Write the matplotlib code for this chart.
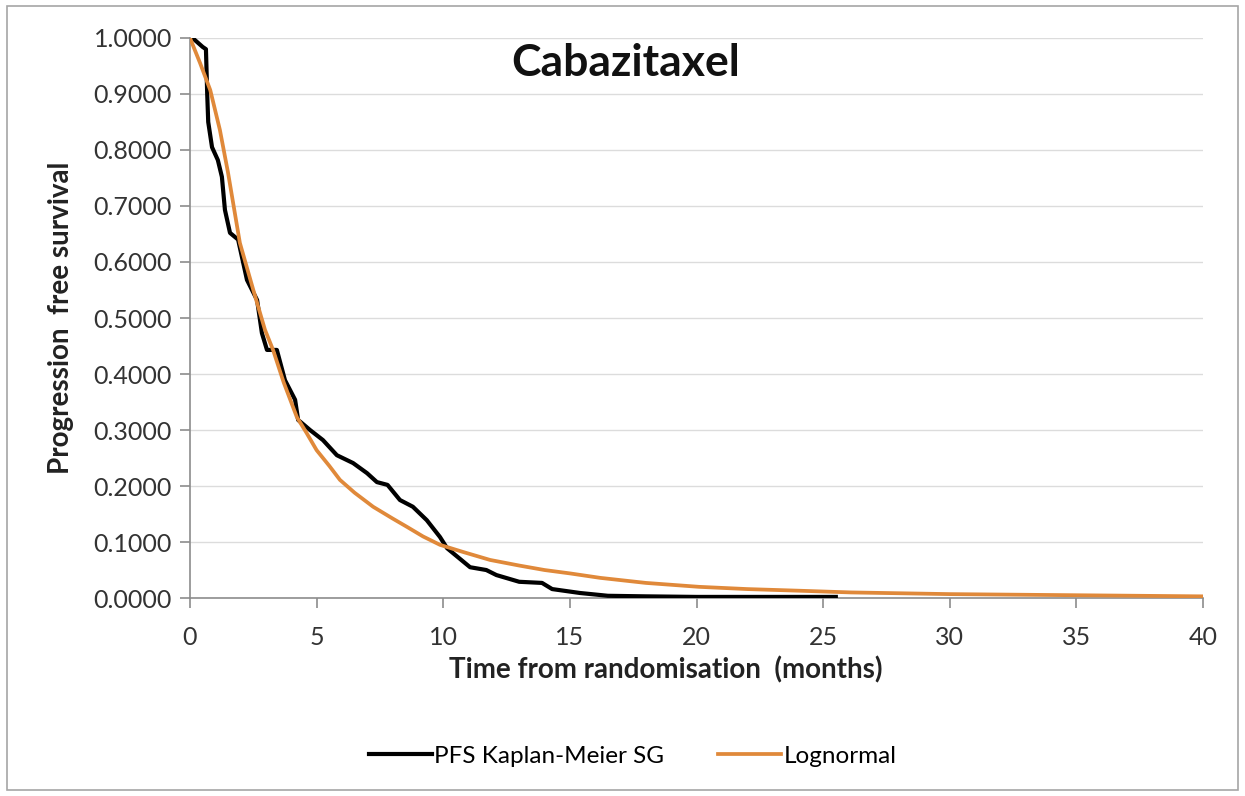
import matplotlib.pyplot as plt
from matplotlib.patches import Rectangle

plt.rcParams['font.family'] = ['Lato', 'DejaVu Sans']

# Kaplan-Meier curve (months, survival)
km_t = [0.0, 0.1, 0.5, 0.63, 0.68, 0.72, 0.87, 1.1, 1.26, 1.38, 1.58, 1.9, 2.25,
        2.65, 2.84, 3.04, 3.43, 3.75, 4.15, 4.27, 4.74, 5.25, 5.8, 6.44, 6.99,
        7.38, 7.8, 8.29, 8.8, 9.35, 9.87, 10.15, 11.06, 11.7, 12.1, 13.0, 13.9,
        14.3, 15.4, 16.5, 18.0, 20.0, 22.0, 25.5]
km_s = [1.0, 1.0, 0.984, 0.98, 0.90, 0.85, 0.805, 0.782, 0.752, 0.693, 0.652,
        0.64, 0.568, 0.532, 0.473, 0.443, 0.443, 0.389, 0.354, 0.318, 0.30,
        0.282, 0.255, 0.241, 0.223, 0.207, 0.202, 0.175, 0.163, 0.139, 0.109,
        0.089, 0.055, 0.05, 0.041, 0.029, 0.027, 0.016, 0.009, 0.004, 0.003,
        0.002, 0.002, 0.002]

# Lognormal fit
ln_t = [0.0, 0.4, 0.8, 1.18, 1.5, 1.97, 2.5, 2.96, 3.28, 3.7, 4.22, 4.6, 5.0,
        5.5, 5.92, 6.5, 7.23, 8.0, 8.57, 9.2, 9.87, 10.8, 11.85, 13.0, 14.0,
        15.0, 16.2, 18.0, 20.1, 22.0, 24.1, 26.1, 30.0, 35.0, 40.0]
ln_s = [1.0, 0.955, 0.907, 0.836, 0.76, 0.634, 0.55, 0.479, 0.443, 0.385,
        0.323, 0.295, 0.264, 0.236, 0.211, 0.188, 0.163, 0.142, 0.127, 0.11,
        0.095, 0.082, 0.068, 0.058, 0.05, 0.044, 0.036, 0.027, 0.020, 0.016,
        0.013, 0.010, 0.007, 0.005, 0.003]

x_ticks = [0, 5, 10, 15, 20, 25, 30, 35, 40]
y_ticks = [0.0, 0.1, 0.2, 0.3, 0.4, 0.5, 0.6, 0.7, 0.8, 0.9, 1.0]

fig = plt.figure(figsize=(12.45, 7.96), dpi=100)
ax = fig.add_axes([0.1526, 0.2487, 0.8137, 0.7036])

axis_col = '#8c8c8c'
ax.plot(km_t, km_s, color='black', lw=3.0, label='PFS Kaplan-Meier SG', zorder=3)
ax.plot(ln_t, ln_s, color='#E0893A', lw=2.7, label='Lognormal', zorder=4)

ax.set_xlim(0, 40)
ax.set_ylim(0, 1.0)
ax.set_xticks(x_ticks)
ax.set_yticks(y_ticks)
ax.set_yticklabels([f'{v:.4f}' for v in y_ticks])
ax.tick_params(axis='both', labelsize=18, colors=axis_col, labelcolor='#333333',
               length=7, width=1.2, direction='out')
ax.tick_params(axis='x', pad=13)
ax.tick_params(axis='y', pad=6)
ax.grid(axis='y', color='#dcdcdc', lw=1)
ax.set_axisbelow(True)
for s in ['top', 'right']:
    ax.spines[s].set_visible(False)
for s in ['left', 'bottom']:
    ax.spines[s].set_color(axis_col)
    ax.spines[s].set_linewidth(1.2)

ax.set_xlabel('Time from randomisation  (months)', fontsize=20, fontweight='bold',
              color='#222222')
ax.xaxis.set_label_coords(0.47, -0.104)
ax.set_ylabel('Progression  free survival', fontsize=20, fontweight='bold',
              color='#222222', labelpad=14)
ax.text(0.43, 0.955, 'Cabazitaxel', transform=ax.transAxes, ha='center', va='center',
        fontsize=32, fontweight='bold', color='#111111')

fig.legend(loc='center', bbox_to_anchor=(0.508, 0.05), ncol=2, frameon=False,
           fontsize=17.5, handlelength=2.6, handletextpad=0.1, columnspacing=2.2)

fig.patches.append(Rectangle((0.006, 0.008), 0.988, 0.984, transform=fig.transFigure,
                             fill=False, edgecolor='#a6a6a6', lw=1.2))

fig.savefig('out.png', dpi=100)
